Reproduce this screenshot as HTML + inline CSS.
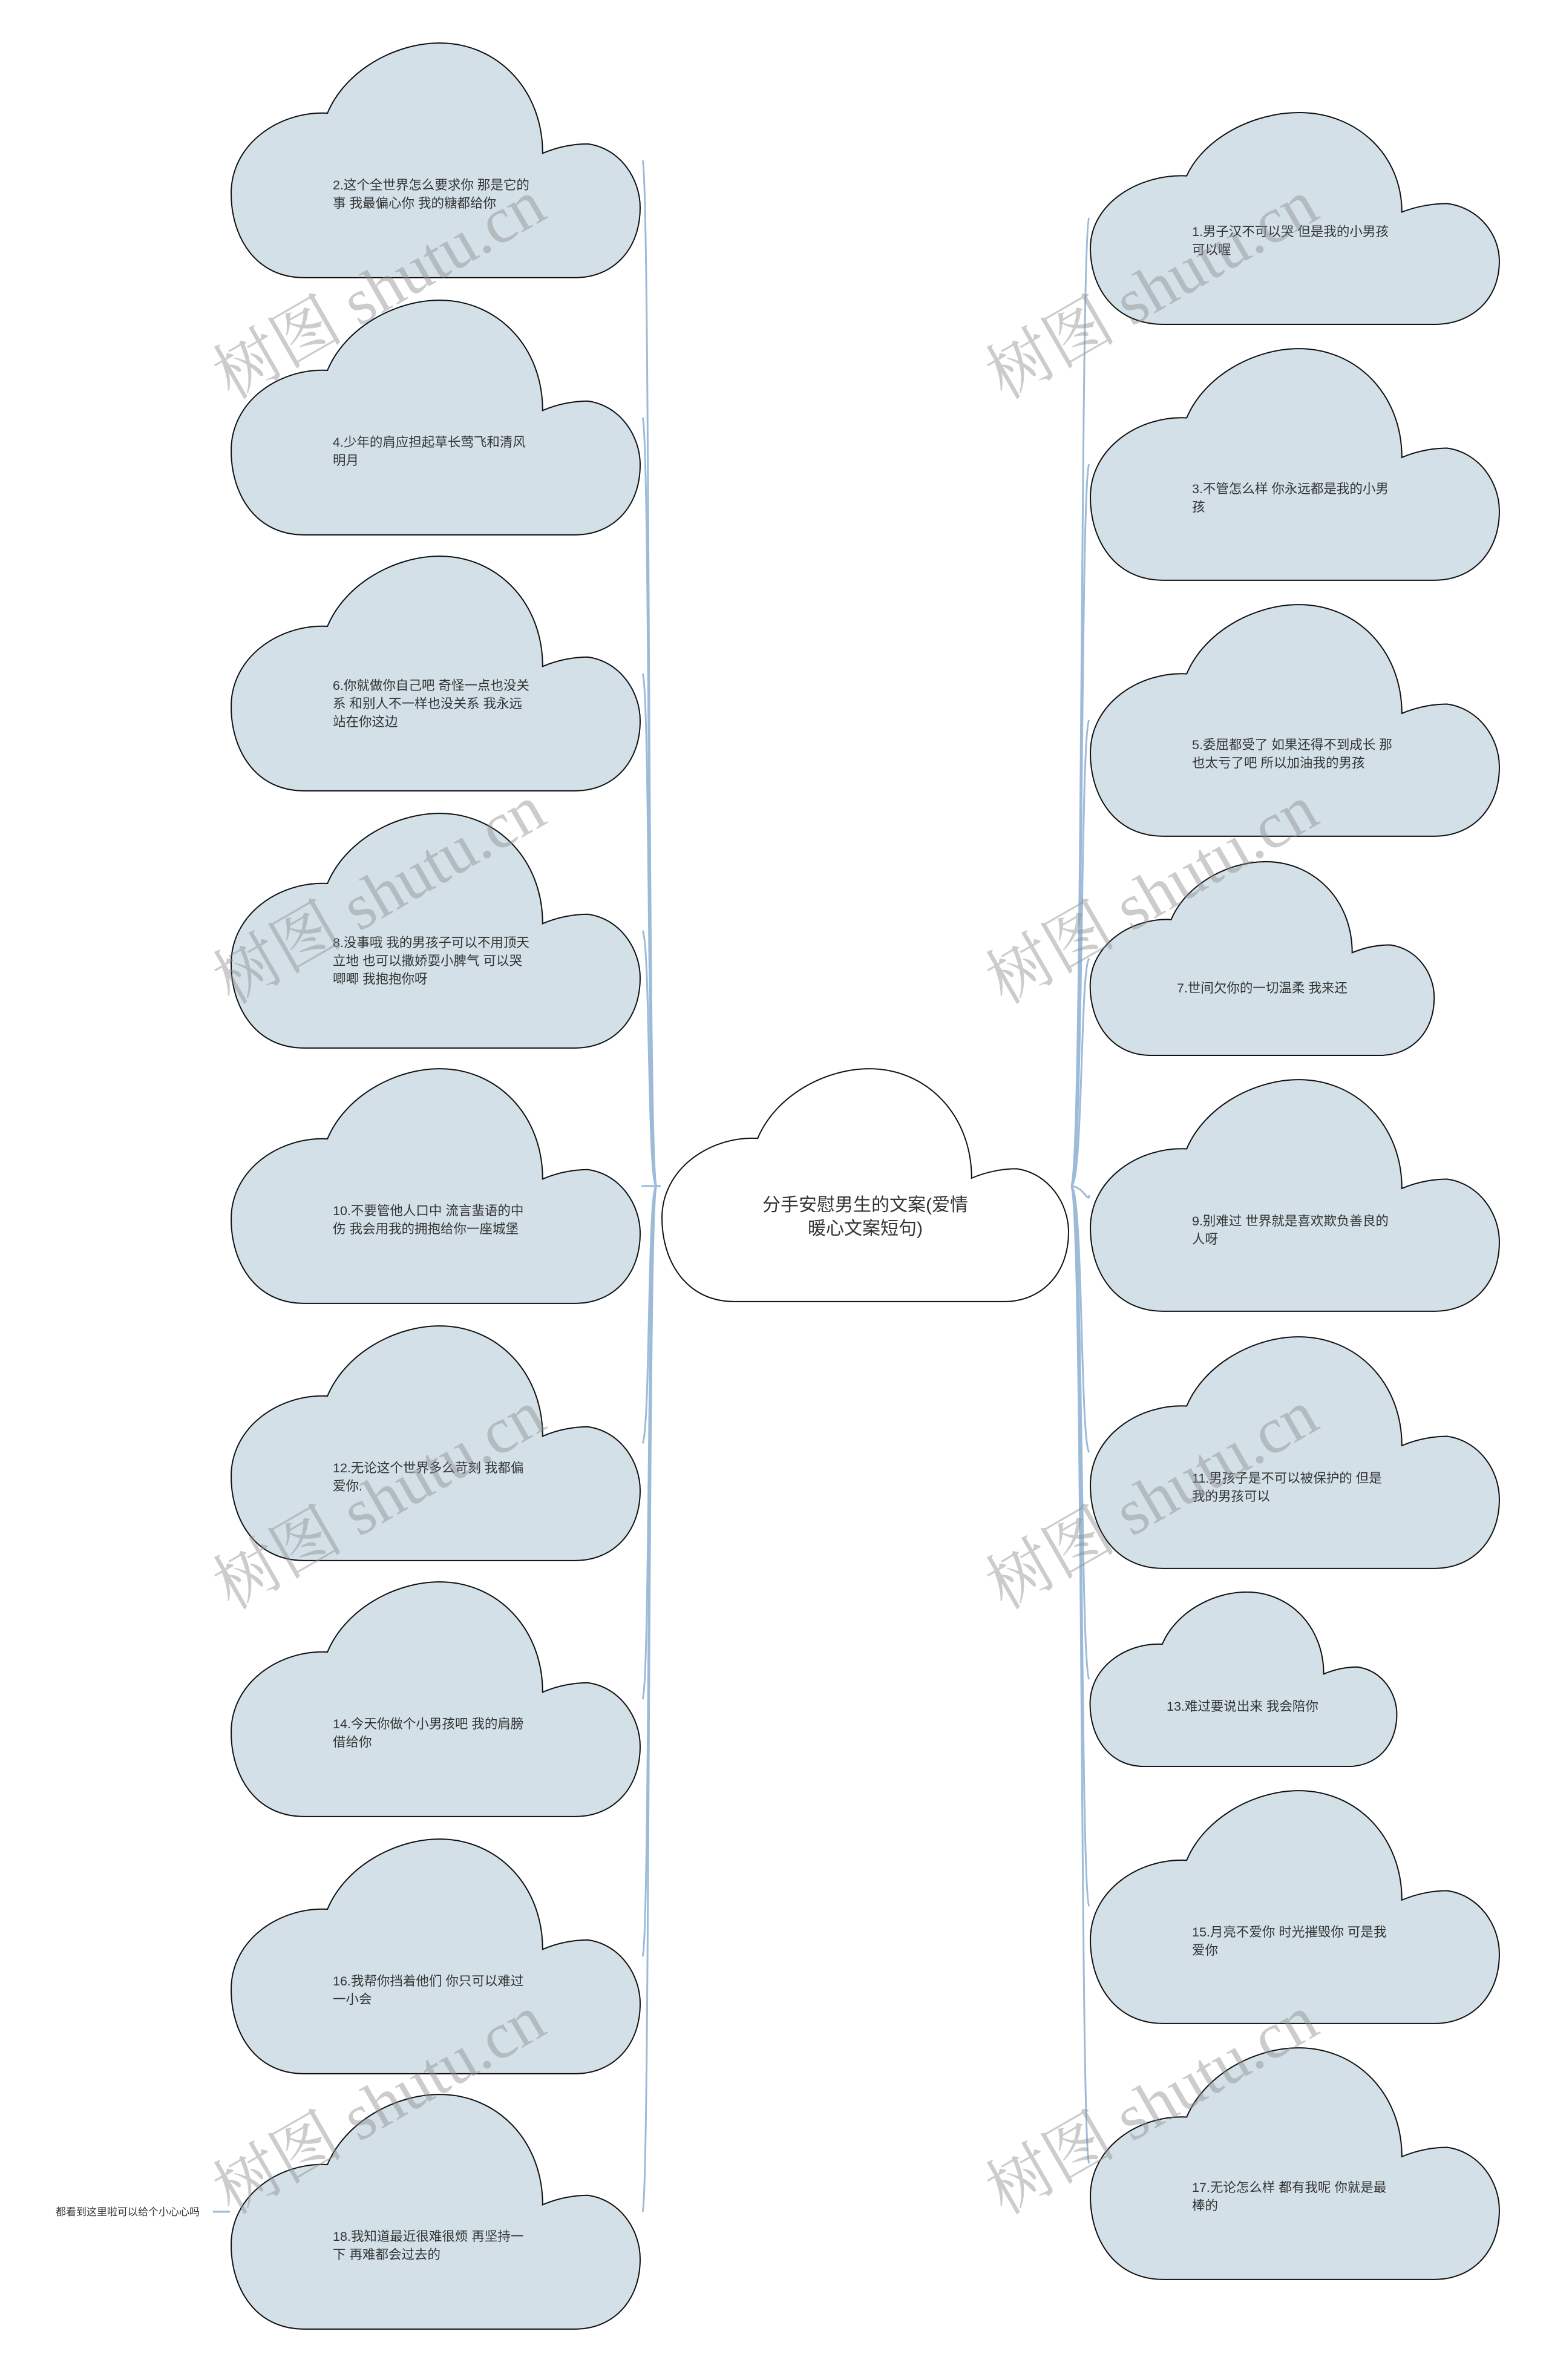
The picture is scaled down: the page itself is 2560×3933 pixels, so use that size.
<!DOCTYPE html>
<html><head><meta charset="utf-8"><style>
html,body{margin:0;padding:0;background:#fff;}
svg{display:block;}
text{font-family:"Liberation Sans","Noto Sans CJK SC",sans-serif;}
</style></head><body>
<svg width="2560" height="3933" viewBox="0 0 2560 3933" xmlns="http://www.w3.org/2000/svg">
<defs>
<symbol id="c" viewBox="0 0 100 100" preserveAspectRatio="none">
<path d="M18,99.7 C6,99.7 0.3,82 0.3,64 C0.3,43 12,29 23.7,30 C28,12 40,0.3 51,0.3 C65,0.3 76,20 76,47 C80,44 84,43 87,43 C95,45 99.7,58 99.7,70 C99.7,88 93,99.7 84,99.7 Z" stroke="#111" stroke-width="2" vector-effect="non-scaling-stroke"/>
</symbol>
</defs>
<g fill="none" stroke="#9dbbd8" stroke-width="3">
<path d="M1085,1960 C1070,1960 1075,300 1062,265"/>
<path d="M1085,1960 C1070,1960 1075,720 1062,690"/>
<path d="M1085,1960 C1070,1960 1075,1140 1062,1113"/>
<path d="M1085,1960 C1070,1960 1075,1560 1062,1538"/>
<path d="M1085,1960 L1062,1960"/>
<path d="M1085,1960 C1070,1960 1075,2360 1062,2385"/>
<path d="M1085,1960 C1070,1960 1075,2780 1062,2808"/>
<path d="M1085,1960 C1070,1960 1075,3200 1062,3233"/>
<path d="M1085,1960 C1070,1960 1075,3620 1062,3655"/>
<path d="M1060,1960 L1092,1960"/>
<path d="M1770,1960 C1790,1960 1785,380 1800,360"/>
<path d="M1770,1960 C1790,1960 1785,790 1800,767"/>
<path d="M1770,1960 C1790,1960 1785,1210 1800,1190"/>
<path d="M1770,1960 C1790,1960 1785,1600 1800,1584"/>
<path d="M1770,1960 C1790,1960 1800,1990 1800,1975"/>
<path d="M1770,1960 C1790,1960 1785,2380 1800,2400"/>
<path d="M1770,1960 C1790,1960 1785,2750 1800,2775"/>
<path d="M1770,1960 C1790,1960 1785,3130 1800,3150"/>
<path d="M1770,1960 C1790,1960 1785,3550 1800,3575"/>
<path d="M352,3655 L380,3655"/>
</g>
<g fill="#d3e0e8">
<use href="#c" x="380" y="70" width="680" height="390"/>
<use href="#c" x="380" y="495" width="680" height="390"/>
<use href="#c" x="380" y="918" width="680" height="390"/>
<use href="#c" x="380" y="1343" width="680" height="390"/>
<use href="#c" x="380" y="1765" width="680" height="390"/>
<use href="#c" x="380" y="2190" width="680" height="390"/>
<use href="#c" x="380" y="2613" width="680" height="390"/>
<use href="#c" x="380" y="3038" width="680" height="390"/>
<use href="#c" x="380" y="3460" width="680" height="390"/>
<use href="#c" x="1800" y="185" width="680" height="352"/>
<use href="#c" x="1800" y="575" width="680" height="385"/>
<use href="#c" x="1800" y="998" width="680" height="385"/>
<use href="#c" x="1800" y="1423" width="572" height="322"/>
<use href="#c" x="1800" y="1783" width="680" height="385"/>
<use href="#c" x="1800" y="2208" width="680" height="385"/>
<use href="#c" x="1800" y="2630" width="510" height="290"/>
<use href="#c" x="1800" y="2958" width="680" height="387"/>
<use href="#c" x="1800" y="3383" width="680" height="385"/>
</g>
<use href="#c" x="1092" y="1765" width="676" height="387" fill="#fff"/>
<g font-size="21.5" fill="#333">
<text x="550" y="313"><tspan x="550">2.这个全世界怎么要求你 那是它的</tspan><tspan x="550" dy="30">事 我最偏心你 我的糖都给你</tspan></text>
<text x="550" y="738"><tspan x="550">4.少年的肩应担起草长莺飞和清风</tspan><tspan x="550" dy="30">明月</tspan></text>
<text x="550" y="1140"><tspan x="550">6.你就做你自己吧 奇怪一点也没关</tspan><tspan x="550" dy="30">系 和别人不一样也没关系 我永远</tspan><tspan x="550" dy="30">站在你这边</tspan></text>
<text x="550" y="1565"><tspan x="550">8.没事哦 我的男孩子可以不用顶天</tspan><tspan x="550" dy="30">立地 也可以撒娇耍小脾气 可以哭</tspan><tspan x="550" dy="30">唧唧 我抱抱你呀</tspan></text>
<text x="550" y="2008"><tspan x="550">10.不要管他人口中 流言蜚语的中</tspan><tspan x="550" dy="30">伤 我会用我的拥抱给你一座城堡</tspan></text>
<text x="550" y="2433"><tspan x="550">12.无论这个世界多么苛刻 我都偏</tspan><tspan x="550" dy="30">爱你.</tspan></text>
<text x="550" y="2856"><tspan x="550">14.今天你做个小男孩吧 我的肩膀</tspan><tspan x="550" dy="30">借给你</tspan></text>
<text x="550" y="3281"><tspan x="550">16.我帮你挡着他们 你只可以难过</tspan><tspan x="550" dy="30">一小会</tspan></text>
<text x="550" y="3703"><tspan x="550">18.我知道最近很难很烦 再坚持一</tspan><tspan x="550" dy="30">下 再难都会过去的</tspan></text>
<text x="1970" y="390"><tspan x="1970">1.男子汉不可以哭 但是我的小男孩</tspan><tspan x="1970" dy="30">可以喔</tspan></text>
<text x="1970" y="815"><tspan x="1970">3.不管怎么样 你永远都是我的小男</tspan><tspan x="1970" dy="30">孩</tspan></text>
<text x="1970" y="1238"><tspan x="1970">5.委屈都受了 如果还得不到成长 那</tspan><tspan x="1970" dy="30">也太亏了吧 所以加油我的男孩</tspan></text>
<text x="1945" y="1640">7.世间欠你的一切温柔 我来还</text>
<text x="1970" y="2025"><tspan x="1970">9.别难过 世界就是喜欢欺负善良的</tspan><tspan x="1970" dy="30">人呀</tspan></text>
<text x="1970" y="2450"><tspan x="1970">11.男孩子是不可以被保护的 但是</tspan><tspan x="1970" dy="30">我的男孩可以</tspan></text>
<text x="1928" y="2827">13.难过要说出来 我会陪你</text>
<text x="1970" y="3200"><tspan x="1970">15.月亮不爱你 时光摧毁你 可是我</tspan><tspan x="1970" dy="30">爱你</tspan></text>
<text x="1970" y="3622"><tspan x="1970">17.无论怎么样 都有我呢 你就是最</tspan><tspan x="1970" dy="30">棒的</tspan></text>
</g>
<g font-size="30" fill="#333" text-anchor="middle">
<text x="1430" y="2001">分手安慰男生的文案(爱情</text>
<text x="1430" y="2040">暖心文案短句)</text>
</g>
<text x="92" y="3661" font-size="17" fill="#333">都看到这里啦可以给个小心心吗</text>
<g font-size="108" fill="#8f8f8f" fill-opacity="0.45" text-anchor="middle">
<text transform="translate(645,510) rotate(-30)" style="font-family:'Liberation Serif','Noto Serif CJK SC',serif">树图 shutu.cn</text>
<text transform="translate(645,1510) rotate(-30)" style="font-family:'Liberation Serif','Noto Serif CJK SC',serif">树图 shutu.cn</text>
<text transform="translate(645,2510) rotate(-30)" style="font-family:'Liberation Serif','Noto Serif CJK SC',serif">树图 shutu.cn</text>
<text transform="translate(645,3510) rotate(-30)" style="font-family:'Liberation Serif','Noto Serif CJK SC',serif">树图 shutu.cn</text>
<text transform="translate(1922,510) rotate(-30)" style="font-family:'Liberation Serif','Noto Serif CJK SC',serif">树图 shutu.cn</text>
<text transform="translate(1922,1510) rotate(-30)" style="font-family:'Liberation Serif','Noto Serif CJK SC',serif">树图 shutu.cn</text>
<text transform="translate(1922,2510) rotate(-30)" style="font-family:'Liberation Serif','Noto Serif CJK SC',serif">树图 shutu.cn</text>
<text transform="translate(1922,3510) rotate(-30)" style="font-family:'Liberation Serif','Noto Serif CJK SC',serif">树图 shutu.cn</text>
</g>
</svg>
</body></html>
